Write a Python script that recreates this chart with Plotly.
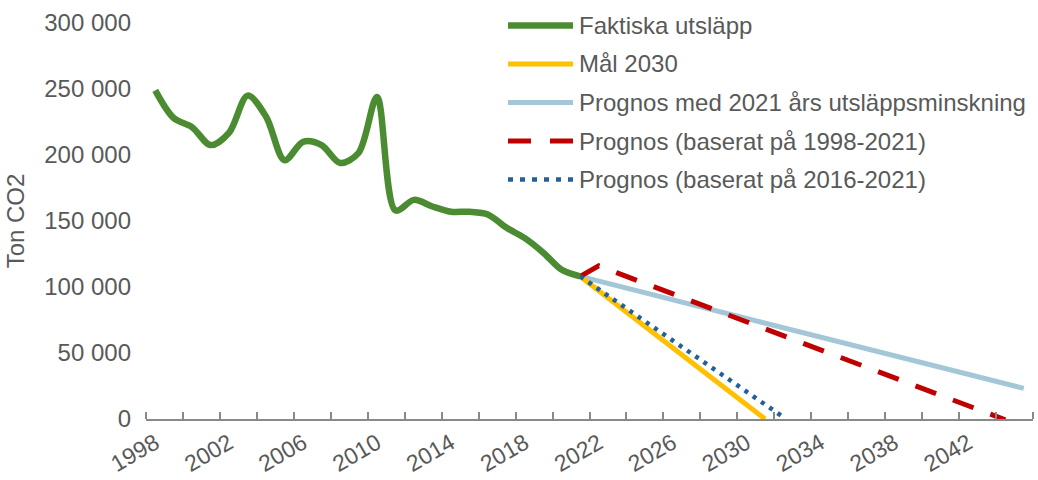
import plotly.graph_objects as go

# ---------------- data ----------------
years_actual = list(range(1998, 2022))
actual = [249000, 228000, 221000, 207500, 217000, 245000, 229000, 196000,
          210000, 207500, 194000, 201500, 244000, 158000, 166000, 161000,
          157000, 157000, 155000, 145000, 137000, 126000, 113000, 108000]

years_goal = list(range(2021, 2032))
goal_2030 = [108000, 97200, 86400, 75600, 64800, 54000, 43200, 32400, 21600, 10800, 0]

years_trend2021 = list(range(2021, 2046))
trend_2021 = [108000, 104500, 101000, 97400, 93900, 90400, 86800, 83300, 79800,
              76200, 72700, 69200, 65600, 62100, 58600, 55000, 51500, 48000,
              44400, 40900, 37400, 33800, 30300, 26800, 23200]

years_long = list(range(2021, 2045))
trend_1998 = [108000, 116000, 110700, 105400, 100100, 94800, 89500, 84200, 78900,
              73600, 68300, 63000, 57700, 52400, 47100, 41800, 36500, 31200,
              25900, 20600, 15300, 10000, 4700, -600]

years_short = list(range(2021, 2033))
trend_2016 = [108000, 98300, 88600, 78900, 69200, 59500, 49800, 40100, 30400,
              20700, 11000, 1300]

series_names = ["Faktiska utsläpp", "Mål 2030",
                "Prognos med 2021 års utsläppsminskning",
                "Prognos (baserat på 1998-2021)",
                "Prognos (baserat på 2016-2021)"]

x_label_years = list(range(1998, 2043, 4))
x_label_text = [str(y) for y in x_label_years]
y_tick_vals = [0, 50000, 100000, 150000, 200000, 250000, 300000]
y_tick_text = ["0", "50 000", "100 000", "150 000", "200 000", "250 000", "300 000"]
y_title = "Ton CO2"

# ---------------- styles ----------------
FONT = "Liberation Sans, Arial, sans-serif"
TXT = "#595959"
AX = "#898989"
C_GREEN = "#4b8c32"
C_YELLOW = "#ffc000"
C_LBLUE = "#a3c7d6"
C_RED = "#c00000"
C_DBLUE = "#22609a"

styles = [
    dict(color=C_GREEN, width=6.5, dash="solid"),
    dict(color=C_YELLOW, width=5, dash="solid"),
    dict(color=C_LBLUE, width=5, dash="solid"),
    dict(color=C_RED, width=5, dash="22px,18px"),
    dict(color=C_DBLUE, width=4.5, dash="4px,6px"),
]

fig = go.Figure()
fig.add_trace(go.Scatter(x=years_trend2021, y=trend_2021, mode="lines",
                         name=series_names[2], line=styles[2], showlegend=False))
fig.add_trace(go.Scatter(x=years_goal, y=goal_2030, mode="lines",
                         name=series_names[1], line=styles[1], showlegend=False))
fig.add_trace(go.Scatter(x=years_long, y=trend_1998, mode="lines",
                         name=series_names[3], line=styles[3], showlegend=False))
fig.add_trace(go.Scatter(x=years_short, y=trend_2016, mode="lines",
                         name=series_names[4], line=styles[4], showlegend=False))
fig.add_trace(go.Scatter(x=years_actual, y=actual, mode="lines",
                         name=series_names[0],
                         line=dict(color=C_GREEN, width=6.5, shape="spline", smoothing=0.9),
                         showlegend=False))

# ---------------- manual legend ----------------
L, R, T, B = 146, 1033, 23, 419
def px_x(p):
    return (p - L) / (R - L)
def px_y(p):
    return (B - p) / (B - T)

leg_rows = [25.5, 64, 102.5, 141, 179.5]
leg_dash = ["solid", "solid", "solid", "23px,19px", "5px,7px"]
shapes = []
annotations = []
for i, name in enumerate(series_names):
    yy = px_y(leg_rows[i])
    shapes.append(dict(type="line", xref="paper", yref="paper",
                       x0=px_x(508), x1=px_x(573), y0=yy, y1=yy,
                       line=dict(color=styles[i]["color"], width=styles[i]["width"],
                                 dash=leg_dash[i])))
    annotations.append(dict(xref="paper", yref="paper", x=px_x(577), y=yy,
                            xanchor="left", yanchor="middle", showarrow=False,
                            text=name, font=dict(family=FONT, size=24, color=TXT)))

fig.update_layout(
    width=1038, height=480,
    margin=dict(l=L, r=1038 - R, t=T, b=480 - B),
    paper_bgcolor="white", plot_bgcolor="white",
    font=dict(family=FONT, size=24, color=TXT),
    shapes=shapes, annotations=annotations,
    showlegend=False,
)
fig.update_xaxes(
    range=[1997.5, 2045.5], showgrid=False, zeroline=False,
    showline=True, linecolor=AX, linewidth=1.5,
    tickmode="array", tickvals=x_label_years, ticktext=x_label_text,
    ticks="", tickangle=-30, ticklabelstandoff=0,
    tickfont=dict(family=FONT, size=23, color=TXT),
    minor=dict(tickmode="array", tickvals=[1997.5 + 2 * k for k in range(25)],
               ticks="inside", ticklen=7, tickwidth=1.5, tickcolor=AX, showgrid=False),
    automargin=False,
)
fig.update_yaxes(
    range=[0, 300000], showgrid=False, zeroline=False, showline=False,
    tickmode="array", tickvals=y_tick_vals, ticktext=y_tick_text,
    ticks="", ticklabelstandoff=14, tickfont=dict(family=FONT, size=24, color=TXT),
    title=dict(text=y_title, standoff=12, font=dict(family=FONT, size=24, color=TXT)),
    automargin=False,
)

fig.write_html("out.html", config={"displayModeBar": False},
               post_script="document.body.style.margin='0';document.body.style.overflow='hidden';")
